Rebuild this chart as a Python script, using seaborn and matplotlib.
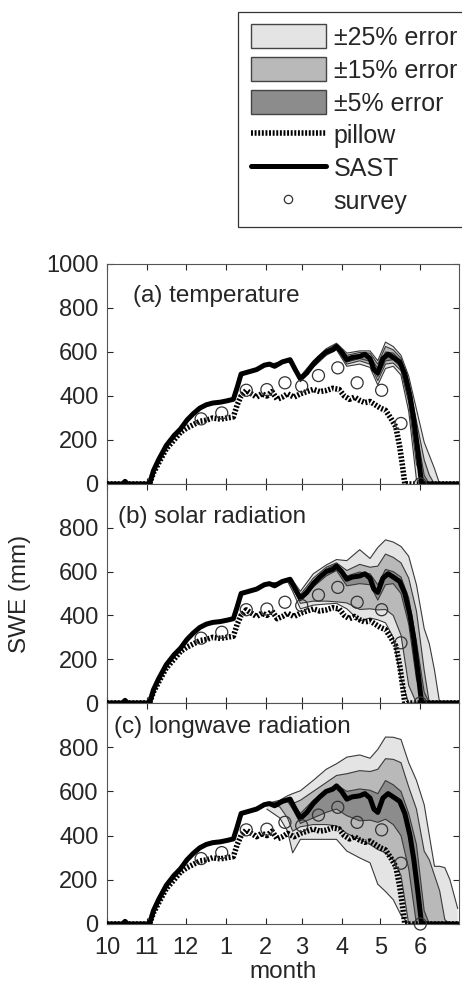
import matplotlib
matplotlib.use("Agg")
import matplotlib.pyplot as plt
import seaborn as sns
import numpy as np
import pandas as pd
from matplotlib.patches import Patch
from matplotlib.lines import Line2D

sns.set_style("ticks")
plt.rcParams['font.family'] = ['Liberation Sans', 'DejaVu Sans']

# days since 1 Oct (water year)
month_days = [0, 31, 61, 92, 123, 151, 182, 212, 243]
month_labels = ['10', '11', '12', '1', '2', '3', '4', '5', '6']

sast_days = [0, 12, 14, 16, 33, 36, 40, 46, 52, 57, 62, 67, 72, 77, 82, 88, 93, 98, 101, 104,
             110, 116, 122, 126, 130, 136, 142, 146, 150, 155, 160, 165, 170, 175, 178, 182,
             186, 190, 196, 200, 204, 207, 210, 214, 218, 222, 227, 231, 235, 238, 241, 244, 273]
sast_swe = [0, 0, 12, 0, 0, 60, 110, 175, 220, 250, 290, 320, 345, 360, 368, 372, 378, 385, 440, 500,
            510, 520, 540, 545, 535, 555, 565, 520, 478, 505, 545, 575, 600, 610, 625, 600,
            565, 575, 580, 590, 570, 520, 505, 570, 590, 575, 555, 500, 400, 290, 150, 0, 0]

pillow_days = [0, 33, 36, 40, 46, 52, 57, 62, 67, 72, 77, 82, 88, 93, 98, 101, 104, 108, 112,
               116, 120, 124, 128, 132, 136, 140, 145, 150, 155, 160, 165, 170, 175, 180, 184,
               188, 192, 196, 200, 204, 208, 212, 216, 220, 224, 227, 229, 231, 273]
pillow_swe = [0, 0, 50, 95, 160, 200, 235, 255, 270, 285, 290, 300, 295, 300, 305, 360, 400, 425, 410,
              395, 410, 400, 420, 385, 395, 410, 395, 410, 420, 430, 420, 425, 435, 430, 400,
              385, 395, 380, 370, 375, 360, 345, 335, 300, 260, 170, 90, 0, 0]

survey_days = [73, 89, 108, 124, 138, 151, 164, 179, 194, 213, 228, 243]
survey_swe = [296, 323, 426, 429, 460, 445, 493, 528, 460, 426, 275, 0]

band_days = [124, 134, 140, 144, 150, 160, 170, 178, 186, 196, 204, 210, 216, 222, 228, 234,
             240, 246, 250, 254, 258, 262, 266, 272]

# (a) temperature
a_hi25 = [543, 552, 566, 550, 490, 560, 615, 640, 595, 605, 605, 560, 645, 625, 585, 490, 340, 190, 130, 70, 0, 0, 0, 0]
a_hi15 = [543, 551, 564, 548, 486, 555, 610, 635, 585, 598, 595, 545, 625, 610, 572, 465, 285, 110, 40, 0, 0, 0, 0, 0]
a_hi5 = [543, 550, 563, 547, 482, 550, 605, 630, 575, 588, 582, 525, 600, 595, 560, 450, 240, 40, 0, 0, 0, 0, 0, 0]
a_lo5 = [543, 549, 561, 543, 474, 540, 595, 620, 555, 570, 558, 488, 560, 565, 530, 400, 150, 0, 0, 0, 0, 0, 0, 0]
a_lo15 = [543, 548, 560, 541, 470, 535, 590, 615, 545, 560, 545, 470, 545, 550, 515, 370, 90, 0, 0, 0, 0, 0, 0, 0]
a_lo25 = [543, 547, 558, 539, 465, 530, 585, 610, 535, 545, 530, 450, 525, 535, 495, 330, 20, 0, 0, 0, 0, 0, 0, 0]

# (b) solar radiation
b_hi25 = [543, 552, 566, 560, 510, 590, 630, 655, 650, 700, 660, 710, 745, 735, 715, 670, 540, 340, 270, 150, 0, 0, 0, 0]
b_hi15 = [543, 551, 564, 553, 495, 570, 620, 640, 605, 633, 620, 625, 680, 665, 640, 570, 420, 150, 0, 0, 0, 0, 0, 0]
b_hi5 = [543, 550, 563, 548, 485, 555, 612, 635, 580, 598, 590, 540, 610, 600, 575, 480, 280, 50, 0, 0, 0, 0, 0, 0]
b_lo5 = [543, 549, 561, 540, 470, 530, 580, 605, 535, 545, 540, 470, 540, 545, 500, 360, 110, 0, 0, 0, 0, 0, 0, 0]
b_lo15 = [543, 548, 558, 530, 455, 465, 465, 462, 457, 427, 430, 425, 427, 400, 310, 80, 0, 0, 0, 0, 0, 0, 0, 0]
b_lo25 = [543, 547, 555, 510, 430, 447, 452, 455, 430, 375, 388, 380, 366, 300, 110, 0, 0, 0, 0, 0, 0, 0, 0, 0]

# (c) longwave radiation
c_hi25 = [545, 560, 580, 590, 603, 650, 700, 725, 755, 765, 750, 790, 846, 845, 835, 730, 650, 540, 400, 261, 261, 255, 200, 70]
c_hi15 = [543, 552, 560, 545, 560, 600, 640, 672, 680, 694, 690, 700, 748, 745, 730, 620, 520, 330, 290, 220, 150, 20, 0, 0]
c_hi5 = [543, 551, 563, 548, 500, 560, 605, 630, 600, 611, 605, 590, 649, 630, 600, 500, 360, 60, 0, 0, 0, 0, 0, 0]
c_lo5 = [543, 549, 555, 520, 455, 480, 505, 520, 490, 467, 470, 460, 474, 450, 400, 250, 0, 0, 0, 0, 0, 0, 0, 0]
c_lo15 = [540, 530, 480, 420, 440, 450, 450, 444, 410, 383, 360, 337, 322, 290, 220, 0, 0, 0, 0, 0, 0, 0, 0, 0]
c_lo25 = [520, 480, 420, 322, 383, 383, 383, 383, 330, 299, 277, 180, 147, 110, 40, 0, 0, 0, 0, 0, 0, 0, 0, 0]

panel_titles = ['(a) temperature', '(b) solar radiation', '(c) longwave radiation']
bands = [(a_lo25, a_hi25, a_lo15, a_hi15, a_lo5, a_hi5),
         (b_lo25, b_hi25, b_lo15, b_hi15, b_lo5, b_hi5),
         (c_lo25, c_hi25, c_lo15, c_hi15, c_lo5, c_hi5)]
band_labels = [u'\u00b125% error', u'\u00b115% error', u'\u00b15% error']
band_colors = ['#e4e4e4', '#b9b9b9', '#8c8c8c']

sast = pd.DataFrame({'day': sast_days, 'swe': sast_swe})
pillow = pd.DataFrame({'day': pillow_days, 'swe': pillow_swe})
survey = pd.DataFrame({'day': survey_days, 'swe': survey_swe})

fig = plt.figure(figsize=(4.62, 9.85), dpi=100)
W, H = 462, 985
panel_px = [(264, 484), (484, 703), (703, 924)]
title_y = [0.855, 0.85, 0.89]
title_x = [0.075, 0.03, 0.02]
axes = []
for i, (top, bot) in enumerate(panel_px):
    ax = fig.add_axes([107 / W, 1 - bot / H, 352 / W, (bot - top) / H])
    axes.append(ax)
    lo25, hi25, lo15, hi15, lo5, hi5 = bands[i]
    for (lo, hi), col in zip([(lo25, hi25), (lo15, hi15), (lo5, hi5)], band_colors):
        ax.fill_between(band_days, lo, hi, facecolor=col, edgecolor='none', zorder=1)
        ax.plot(band_days, lo, color='#3a3a3a', lw=0.8, zorder=2)
        ax.plot(band_days, hi, color='#3a3a3a', lw=0.8, zorder=2)
    sns.lineplot(data=pillow, x='day', y='swe', ax=ax, color='black', lw=4,
                 linestyle=(0, (0.35, 0.3)), dash_capstyle='butt', zorder=3)
    sns.lineplot(data=sast, x='day', y='swe', ax=ax, color='black', lw=3.6, zorder=4)
    sns.scatterplot(data=survey, x='day', y='swe', ax=ax, marker='o', s=75,
                    facecolor='none', edgecolor='#333333', linewidth=0.9, zorder=5, clip_on=False)
    ax.set_xlim(0, 273)
    ax.set_ylim(0, 1000)
    ax.set_xticks(month_days)
    if i == 0:
        ax.set_yticks([0, 200, 400, 600, 800, 1000])
    else:
        ax.set_yticks([0, 200, 400, 600, 800])
    ax.tick_params(direction='in', top=True, right=True, length=4, labelsize=17, width=0.8)
    ax.tick_params(axis='y', pad=6)
    ax.tick_params(axis='x', pad=9)
    if i < 2:
        ax.set_xticklabels([])
        ax.set_xlabel('')
    else:
        ax.set_xticklabels(month_labels)
        ax.set_xlabel('month', fontsize=17.5, labelpad=2)
    if i == 1:
        ax.set_ylabel('SWE (mm)', fontsize=17.5)
        ax.yaxis.set_label_coords(-0.215, 0.5)
    else:
        ax.set_ylabel('')
    for sp in ax.spines.values():
        sp.set_linewidth(0.8)
        sp.set_color('#555555')
    ax.text(title_x[i], title_y[i], panel_titles[i], transform=ax.transAxes,
            fontsize=17.5, va='center', ha='left')

handles = [Patch(facecolor=c, edgecolor='#444444', linewidth=1) for c in band_colors]
handles += [Line2D([], [], color='black', lw=4, linestyle=(0, (0.35, 0.3)), dash_capstyle='butt'),
            Line2D([], [], color='black', lw=3.6),
            Line2D([], [], color='#333333', marker='o', markersize=6, markerfacecolor='none',
                   linestyle='none', markeredgewidth=0.9)]
labels = band_labels + ['pillow', 'SAST', 'survey']
leg = fig.legend(handles, labels, loc='upper left', bbox_to_anchor=(238 / W, 1 - 12 / H),
                 fontsize=18, frameon=True, fancybox=False, handlelength=3.0, handleheight=1.08,
                 labelspacing=0.3, handletextpad=0.32, borderpad=0.5, borderaxespad=0)
leg.get_frame().set_edgecolor('black')
leg.get_frame().set_linewidth(0.9)

fig.savefig('out.png', dpi=100)
